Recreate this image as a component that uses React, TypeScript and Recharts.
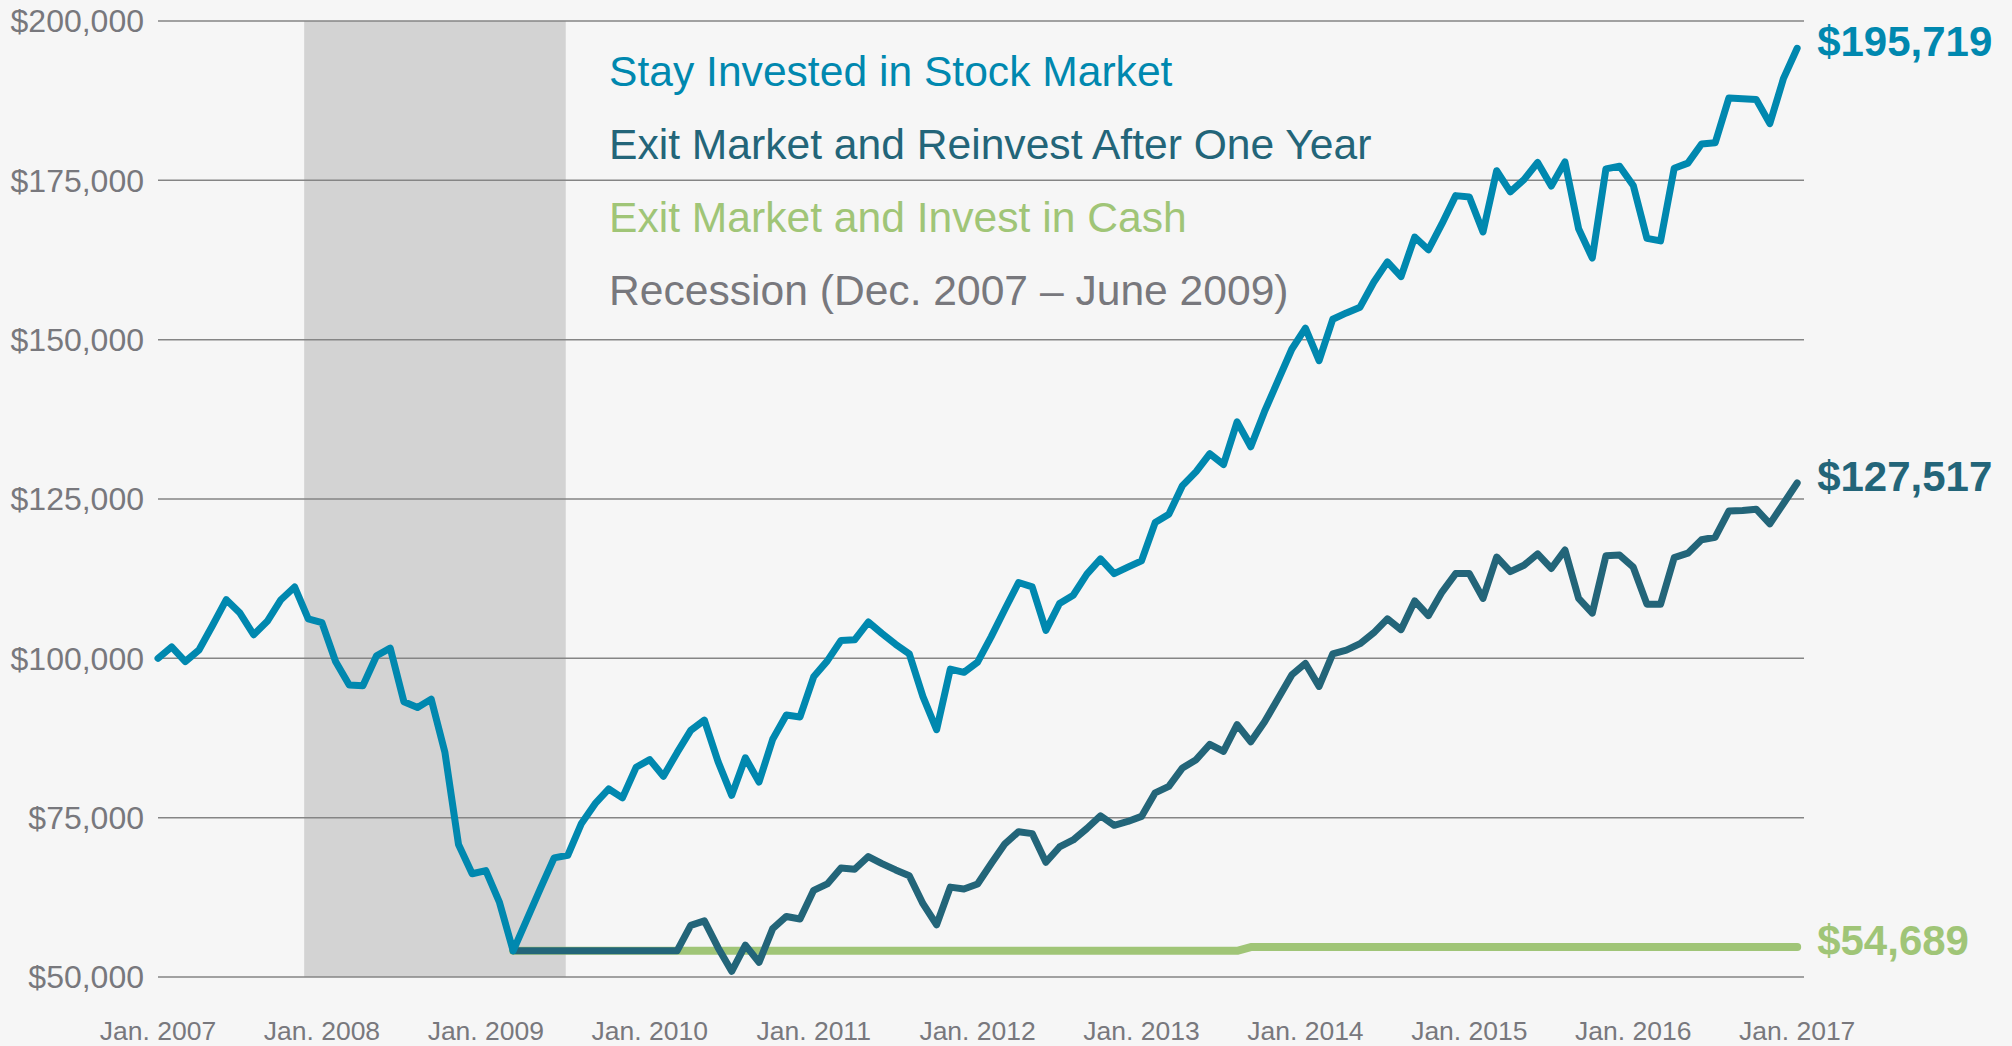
import React from 'react';
import {
  LineChart,
  Line,
  XAxis,
  YAxis,
  CartesianGrid,
  ReferenceArea,
  LabelList,
} from 'recharts';

const FONT = '"Liberation Sans", Arial, Helvetica, sans-serif';
const BLUE = '#0088af';
const TEAL = '#236579';
const GREEN = '#a0c577';
const GRAY_TEXT = '#78787d';

// x axis: month index, 0 = Jan. 2007
const yearTicks = [0, 12, 24, 36, 48, 60, 72, 84, 96, 108, 120];
const yearLabels = [
  'Jan. 2007', 'Jan. 2008', 'Jan. 2009', 'Jan. 2010', 'Jan. 2011', 'Jan. 2012',
  'Jan. 2013', 'Jan. 2014', 'Jan. 2015', 'Jan. 2016', 'Jan. 2017',
];
const dollarTicks = [50000, 75000, 100000, 125000, 150000, 175000, 200000];

// shaded recession band, in month index units
const recession = [10.7, 29.85];

const stayInvested = [
  100000, 101800, 99500, 101300, 105200, 109200, 107100, 103700, 105800, 109200, 111200, 106200,
  105600, 99500, 95800, 95700, 100400, 101600, 93200, 92300, 93600, 85300, 70800, 66200,
  66700, 61700, 54100, 59000, 63900, 68700, 69100, 74100, 77200, 79500, 78100, 82900,
  84100, 81500, 85200, 88700, 90300, 83800, 78500, 84400, 80600, 87300, 91100, 90800,
  97100, 99600, 102800, 102900, 105700, 103900, 102200, 100700, 94000, 88800, 98300, 97800,
  99400, 103400, 107700, 111900, 111200, 104400, 108600, 109900, 113200, 115600, 113300, 114300,
  115300, 121300, 122600, 127100, 129300, 132100, 130400, 137100, 133200, 138700, 143600, 148500,
  151800, 146700, 153200, 154200, 155100, 159000, 162200, 159900, 166100, 164100, 168200, 172600,
  172400, 166900, 176500, 173200, 175100, 177800, 174100, 177900, 167400, 162800, 176800, 177200,
  174200, 165900, 165500, 176900, 177700, 180700, 180900, 187900, 187800, 187700, 183900, 191000,
  195719,
];

// the two exit strategies begin at the Mar. 2009 low
const exitStart = 26;

const exitReinvest = [
  54100, 54100, 54100, 54100, 54100, 54100, 54100, 54100, 54100, 54100, 54100, 54100, 54100,
  58100, 58800, 54600, 50900, 55000, 52300, 57600, 59500, 59100, 63600, 64600, 67100,
  66900, 68900, 67800, 66800, 65900, 61500, 58200, 64100, 63800, 64600, 67800, 70900,
  72800, 72500, 68000, 70400, 71500, 73300, 75300, 73800, 74400, 75200, 78900, 79900,
  82800, 84100, 86500, 85400, 89600, 86900, 90000, 93700, 97400, 99200, 95600, 100700,
  101300, 102300, 104000, 106200, 104500, 109000, 106700, 110400, 113300, 113300, 109400, 115900,
  113600, 114600, 116400, 114100, 117000, 109400, 107100, 116100, 116200, 114300, 108500, 108500,
  115800, 116500, 118600, 119000, 123100, 123200, 123400, 121100, 124300, 127517,
];

const exitCash = [
  54100, 54100, 54100, 54100, 54100, 54100, 54100, 54100, 54100, 54100, 54100, 54100,
  54100, 54100, 54100, 54100, 54100, 54100, 54100, 54100, 54100, 54100, 54100, 54100,
  54100, 54100, 54100, 54100, 54100, 54100, 54100, 54100, 54100, 54100, 54100, 54100,
  54100, 54100, 54100, 54100, 54100, 54100, 54100, 54100, 54100, 54100, 54100, 54100,
  54100, 54100, 54100, 54100, 54100, 54100,
  54689, 54689, 54689, 54689, 54689, 54689, 54689, 54689, 54689, 54689, 54689, 54689,
  54689, 54689, 54689, 54689, 54689, 54689, 54689, 54689, 54689, 54689, 54689, 54689,
  54689, 54689, 54689, 54689, 54689, 54689, 54689, 54689, 54689, 54689, 54689, 54689,
  54689, 54689, 54689, 54689, 54689,
];

const legendItems = [
  { text: 'Stay Invested in Stock Market', color: BLUE },
  { text: 'Exit Market and Reinvest After One Year', color: TEAL },
  { text: 'Exit Market and Invest in Cash', color: GREEN },
  { text: 'Recession (Dec. 2007 \u2013 June 2009)', color: GRAY_TEXT },
];

const data = stayInvested.map((v, i) => ({
  month: i,
  stay: v,
  reinvest: i >= exitStart ? exitReinvest[i - exitStart] : null,
  cash: i >= exitStart ? exitCash[i - exitStart] : null,
}));

const lastIndex = data.length - 1;

const money = (v: number) => '$' + v.toLocaleString('en-US');

const endLabel = (color: string) => (props: any) => {
  const { x, y, index, value } = props;
  if (index !== lastIndex || value == null) return null;
  return (
    <text
      x={x + 20}
      y={y + 8}
      fill={color}
      fontSize={42}
      fontWeight="bold"
      fontFamily={FONT}
    >
      {money(value)}
    </text>
  );
};

const App = () => {
  return (
    <div
      style={{
        position: 'fixed',
        left: 0,
        top: 0,
        width: 2012,
        height: 1046,
        background: '#f6f6f6',
      }}
    >
      <LineChart
        width={2012}
        height={1046}
        data={data}
        margin={{ top: 21, right: 208, left: 0, bottom: 0 }}
      >
        <ReferenceArea
          x1={recession[0]}
          x2={recession[1]}
          y1={50000}
          y2={200000}
          fill="#d3d3d3"
          fillOpacity={1}
          stroke="none"
          zIndex={-200}
        />
        <CartesianGrid vertical={false} stroke="#858585" strokeWidth={1.5} />
        <XAxis
          dataKey="month"
          type="number"
          domain={[0, 120.5]}
          ticks={yearTicks}
          interval={0}
          tickFormatter={(m: number) => yearLabels[yearTicks.indexOf(m)]}
          axisLine={false}
          tickLine={false}
          tickSize={0}
          tickMargin={44}
          height={69}
          tick={{ fill: GRAY_TEXT, fontSize: 26.5, fontFamily: FONT }}
        />
        <YAxis
          type="number"
          domain={[50000, 200000]}
          ticks={dollarTicks}
          interval={0}
          tickFormatter={money}
          axisLine={false}
          tickLine={false}
          tickSize={0}
          tickMargin={14}
          width={158}
          tick={{ fill: GRAY_TEXT, fontSize: 32, fontFamily: FONT }}
        />
        <Line
          dataKey="cash"
          stroke={GREEN}
          strokeWidth={8}
          dot={false}
          activeDot={false}
          strokeLinejoin="round"
          strokeLinecap="round"
          isAnimationActive={false}
        >
          <LabelList dataKey="cash" content={endLabel(GREEN)} />
        </Line>
        <Line
          dataKey="reinvest"
          stroke={TEAL}
          strokeWidth={7}
          dot={false}
          activeDot={false}
          strokeLinejoin="round"
          strokeLinecap="round"
          isAnimationActive={false}
        >
          <LabelList dataKey="reinvest" content={endLabel(TEAL)} />
        </Line>
        <Line
          dataKey="stay"
          stroke={BLUE}
          strokeWidth={7}
          dot={false}
          activeDot={false}
          strokeLinejoin="round"
          strokeLinecap="round"
          isAnimationActive={false}
        >
          <LabelList dataKey="stay" content={endLabel(BLUE)} />
        </Line>
      </LineChart>
      <svg
        width={2012}
        height={1046}
        style={{ position: 'absolute', left: 0, top: 0, pointerEvents: 'none' }}
      >
        {legendItems.map((item, k) => (
          <text
            key={item.text}
            x={609}
            y={86 + k * 73}
            fill={item.color}
            fontSize={42.6}
            fontFamily={FONT}
          >
            {item.text}
          </text>
        ))}
      </svg>
    </div>
  );
};

export default App;
